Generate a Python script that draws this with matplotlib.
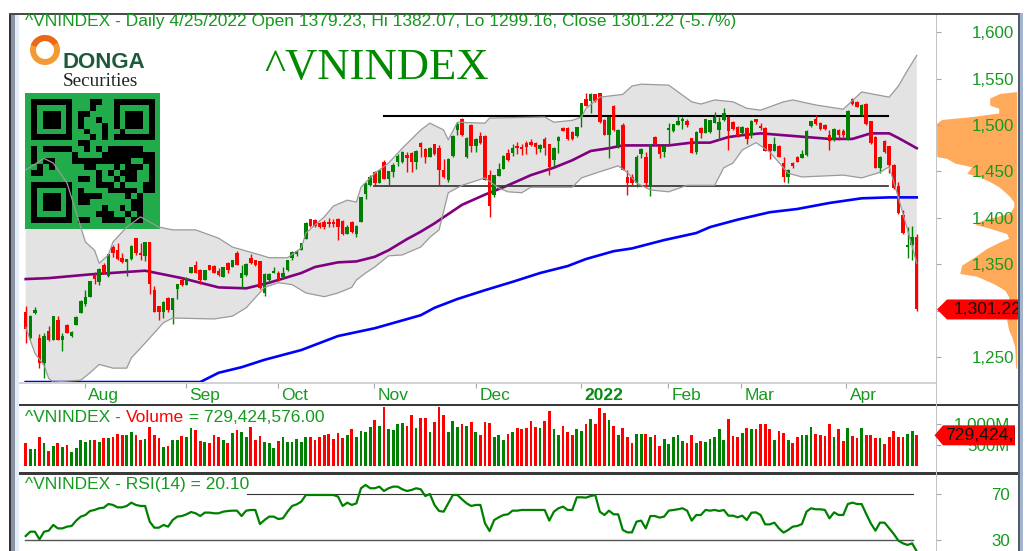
import numpy as np
import matplotlib
matplotlib.use("Agg")
import matplotlib.pyplot as plt
from matplotlib.patches import Rectangle, Polygon, Wedge
from matplotlib.transforms import ScaledTranslation, Bbox
from matplotlib.ticker import FuncFormatter
from matplotlib.colors import ListedColormap

plt.rcParams['font.family'] = ['Liberation Sans', 'DejaVu Sans']

highs = [1305,1295,1304,1275,1276,1283,1294,1294,1276,1286,
 1278,1294,1311,1322,1332,1342,1346,1351,1361,1371,
 1373,1362,1356,1371,1378,1373,1374,1374,1326,1305,
 1310,1315,1314,1329,1335,1336,1347,1353,1345,1344,
 1349,1349,1346,1347,1352,1355,1364,1349,1351,1361,
 1355,1353,1340,1340,1347,1343,1347,1355,1364,1365,
 1373,1395,1399,1399,1396,1398,1400,1399,1400,1398,
 1392,1397,1392,1422,1438,1446,1450,1452,1462,1450,
 1459,1469,1472,1471,1471,1473,1482,1475,1476,1480,
 1478,1463,1464,1489,1503,1508,1487,1501,1486,1492,
 1489,1452,1446,1459,1468,1474,1480,1482,1480,1483,
 1485,1482,1480,1487,1480,1476,1488,1498,1498,1493,
 1498,1524,1534,1535,1533,1535,1506,1510,1522,1496,
 1502,1452,1447,1468,1475,1471,1480,1488,1478,1478,
 1502,1501,1510,1509,1507,1486,1493,1498,1507,1505,
 1514,1509,1518,1510,1504,1499,1499,1498,1505,1507,
 1502,1498,1480,1487,1478,1465,1453,1460,1467,1473,
 1495,1504,1511,1503,1501,1495,1497,1496,1496,1516,
 1529,1526,1523,1524,1504,1488,1467,1484,1477,1458,
 1439,1408,1390,1391,1382.07]
body_hi = [1299,1294,1301,1271,1273,1278,1294,1290,1273,1285,
 1277,1293,1310,1315,1332,1338,1345,1349,1361,1368,
 1365,1357,1356,1370,1378,1362,1374,1374,1322,1305,
 1309,1314,1314,1329,1333,1335,1347,1349,1344,1344,
 1349,1348,1343,1347,1351,1355,1362,1340,1350,1357,
 1355,1353,1339,1339,1343,1341,1341,1354,1363,1364,
 1373,1394,1399,1398,1394,1396,1395,1395,1399,1397,
 1390,1396,1391,1422,1437,1444,1449,1452,1460,1450,
 1457,1467,1471,1468,1470,1472,1481,1474,1475,1480,
 1475,1452,1463,1488,1501,1506,1486,1500,1485,1488,
 1488,1446,1446,1453,1467,1470,1475,1477,1476,1481,
 1482,1481,1478,1485,1480,1475,1487,1497,1497,1492,
 1498,1524,1528,1533,1533,1534,1505,1509,1520,1495,
 1500,1444,1444,1466,1474,1466,1479,1487,1477,1477,
 1497,1501,1504,1506,1504,1486,1492,1497,1506,1505,
 1509,1503,1513,1509,1503,1498,1498,1497,1504,1506,
 1499,1497,1479,1479,1477,1459,1452,1459,1466,1469,
 1494,1504,1506,1502,1500,1489,1496,1495,1493,1515,
 1528,1525,1522,1523,1504,1487,1466,1483,1477,1457,
 1434,1403,1371,1379,1379.23]
body_lo = [1280,1270,1297,1243,1243,1268,1268,1268,1268,1276,
 1273,1285,1297,1307,1315,1334,1331,1341,1337,1362,
 1356,1352,1352,1356,1362,1360,1359,1329,1299,1298,
 1298,1301,1301,1323,1328,1328,1340,1340,1333,1333,
 1344,1340,1338,1336,1344,1347,1349,1335,1338,1351,
 1349,1324,1319,1333,1341,1333,1336,1344,1357,1361,
 1365,1377,1391,1391,1390,1390,1393,1393,1390,1383,
 1383,1385,1383,1396,1426,1435,1437,1438,1442,1442,
 1449,1460,1460,1464,1460,1460,1476,1465,1465,1469,
 1451,1444,1441,1467,1495,1489,1465,1477,1477,1481,
 1441,1413,1425,1445,1453,1462,1470,1475,1474,1476,
 1478,1476,1474,1475,1455,1462,1483,1494,1485,1485,
 1488,1509,1520,1526,1526,1503,1489,1489,1495,1477,
 1452,1437,1438,1437,1469,1437,1433,1479,1469,1471,
 1495,1493,1500,1504,1500,1470,1471,1491,1491,1492,
 1502,1495,1505,1493,1496,1488,1491,1485,1489,1503,
 1497,1472,1472,1472,1465,1444,1444,1456,1460,1464,
 1468,1499,1501,1496,1496,1483,1484,1489,1489,1485,
 1523,1519,1511,1501,1481,1454,1454,1471,1457,1432,
 1405,1384,1368,1371,1301.22]
lows = [1265,1269,1296,1238,1227,1267,1268,1268,1256,1276,
 1272,1284,1297,1305,1315,1329,1328,1340,1336,1358,
 1355,1351,1337,1355,1360,1355,1353,1318,1298,1290,
 1292,1299,1286,1313,1327,1328,1340,1340,1329,1333,
 1344,1340,1337,1336,1341,1347,1349,1324,1337,1350,
 1348,1323,1316,1330,1341,1332,1334,1343,1355,1359,
 1365,1377,1390,1390,1389,1388,1390,1390,1376,1382,
 1383,1384,1379,1396,1420,1434,1434,1437,1442,1435,
 1444,1456,1459,1449,1449,1453,1466,1459,1465,1468,
 1435,1443,1439,1466,1489,1488,1464,1471,1471,1480,
 1441,1401,1422,1445,1453,1461,1467,1469,1468,1469,
 1477,1469,1471,1468,1446,1456,1470,1493,1484,1484,
 1487,1498,1520,1513,1525,1502,1489,1464,1494,1475,
 1451,1425,1435,1433,1464,1433,1424,1478,1464,1466,
 1478,1492,1500,1496,1498,1470,1469,1486,1491,1491,
 1502,1484,1504,1473,1495,1487,1490,1480,1486,1501,
 1495,1472,1463,1472,1465,1439,1438,1454,1460,1464,
 1467,1498,1500,1495,1495,1473,1483,1484,1487,1484,
 1522,1519,1510,1500,1480,1454,1448,1470,1448,1431,
 1404,1383,1357,1354,1299.16]
direction = ("rggrgrgrgr" "gggggrgrgr" "rrggrrgrrr" "grggrggrrg" "rrrgrgrggr"
             "rrgggrgggg" "ggrrrrrrrr" "grggggrgrg" "gggrrgrrgr" "rrgggrgrgr"
             "rrgggrgrrr" "rrgrrggrrr" "ggrgrrrgrg" "rrrggrgrrg" "ggggrrgrgg"
             "gggrrrgrgr" "rrrgrrgrrg" "ggrrrrgrrg" "rrgrrrgrrr" "rrggr")
volume_m = [536,392,392,680,536,360,472,536,440,496,
 336,416,616,560,616,616,560,672,656,680,
 760,736,736,816,736,616,632,936,736,656,
 456,480,616,616,712,680,896,856,592,560,
 536,736,680,616,536,776,856,816,696,936,
 616,712,560,536,416,592,696,560,560,632,
 560,696,680,616,680,736,760,632,792,656,
 736,880,680,840,816,920,1096,960,1416,872,
 856,992,1016,960,1216,896,1152,1152,816,1040,
 1416,1216,816,1072,936,992,960,1040,816,736,
 1040,1016,680,736,616,760,816,896,880,896,
 1072,936,896,1072,1320,872,736,952,816,736,
 872,840,992,1120,992,1376,1272,1096,952,736,
 896,680,536,760,760,760,680,736,480,640,
 512,680,736,592,536,736,536,592,560,640,
 696,872,616,1120,712,680,792,896,872,872,
 992,992,872,616,840,792,616,536,680,736,
 736,920,752,736,712,992,680,872,592,896,
 712,656,896,736,736,656,656,512,680,840,
 680,696,760,840,729.42]
rsi = [33.5,37.3,37.3,30.6,37.3,38.2,43.2,40.2,40.2,41.7,
 42.3,47.0,50.5,51.9,55.4,56.3,57.8,58.3,61.5,60.7,
 58.6,58.6,59.8,62.7,60.7,59.8,59.8,46.1,40.8,40.8,
 43.2,41.7,47.5,50.5,51.0,52.5,54.5,53.4,51.0,54.0,
 54.0,53.4,53.4,54.8,55.4,55.7,55.7,51.0,55.7,56.3,
 56.3,44.0,47.5,50.5,50.5,48.4,49.0,54.8,59.8,61.2,
 63.6,69.4,69.4,69.4,69.4,69.4,69.4,69.4,68.0,59.8,
 62.7,60.7,62.1,75.3,78.2,75.3,75.3,76.7,72.9,75.3,
 76.7,76.7,74.4,72.9,73.8,75.3,74.4,68.5,70.3,60.7,
 55.4,54.8,62.1,69.4,69.4,65.6,62.1,59.8,60.7,60.7,
 44.6,37.9,47.5,49.9,
 51.9,52.5,55.7,55.7,56.3,56.3,56.3,56.3,56.3,56.3,
 47.0,54.8,57.8,59.2,56.3,56.3,67.4,67.4,67.1,68.5,
 69.4,54.8,51.9,55.7,52.5,52.5,38.8,36.7,36.7,46.1,
 47.0,40.2,51.0,51.0,49.6,50.5,55.7,56.3,56.9,57.8,
 55.7,47.0,51.9,51.9,56.3,55.7,56.3,55.4,56.3,51.3,
 51.3,49.9,51.3,47.5,53.9,54.2,51.9,43.7,43.7,45.2,
 40.2,36.5,38.8,41.7,42.3,44.0,54.8,57.8,56.9,56.9,
 56.3,49.0,54.2,51.9,51.9,61.5,62.7,61.5,61.5,52.8,
 44.6,38.2,45.2,45.2,40.2,35.3,29.5,27.1,25.7,27.1,20.10]

upper_idx = [0,4,6,9,13,15,16,18,19,22,25,29,32,37,42,45,51,53,57,60,61,65,67,70,72,73,76,79,82,86,
             88,91,92,94,100,101,113,115,119,121,122,125,130,132,134,140,145,147,150,154,157,160,165,167,172,178,182,188,190,192,194]
upper_band = [1451.5,1464,1459,1437.5,1374,1365,1351,1360,1374,1390,1401,1390,1387,1387,1378,1368.5,1360,1357,1357,1367.5,
              1383.6,1401,1412.7,1419,1417,1433,1448,1459,1475,1494.6,1502,1494.6,1484,1503,1502,1507.5,1508.6,1503,1505,1508.6,
              1518,1530,1533,1542,1544,1543,1525,1522.6,1527,1525,1518,1516,1525,1527,1521.6,1517,1535.6,1530,1542,1559,1575]
lower_idx = [0,2,4,5,6,12,14,16,19,22,23,26,30,32,41,45,48,52,55,58,61,65,68,71,72,74,76,79,82,86,88,90,92,95,100,103,105,108,110,115,119,
             121,124,129,131,133,136,140,144,150,152,154,156,159,162,166,169,178,182,186,188,190,192,194]
lower_band = [1282,1254,1241,1227,1223,1225,1233,1242,1238,1238,1249,1265,1287,1292,1291,1294,1303,1325,1330,1328,1319,1315,1319,1325,1333,1340.5,1347,1359,1360,1368.5,1379,1387,1427,1435,1443,1432,1428,1427,1433,1433,1433,
              1443,1448,1456,1449,1437.5,1430,1428,1435,1435,1454,1459,1473,1481,1471,1448,1444,1446,1443,1449,1455,1422,1387,1351]
ma50_idx = [0,5,14,26,34,42,48,53,60,63,68,72,76,79,83,86,89,95,100,105,110,115,119,123,127,130,134,140,145,149,153,156,160,165,170,175,180,184,188,190,194]
ma50 = [1334,1335,1339,1343,1335,1325,1324,1330,1340.5,1347,1352,1353,1358,1365,1377,1385,1394,1414,1425,1435,1446,1454,1462,1472,1475,1478,1478,1478,1481,1481,1487,1489,1491,1489,1487,1485,1485,1491,1491,1486,1475]
ma200_idx = [0,38,42,47,52,60,68,76,81,86,89,94,100,106,112,118,122,128,132,139,146,149,155,162,168,175,182,188,194]
ma200 = [1223,1223,1233,1239,1247,1257.5,1272.6,1281,1288,1295,1303,1312.5,1322,1331,1340.5,1348,1355.6,1364,1367,1376,1383.6,1390,1398,1406,1409.5,1416,1421,1422,1422]
vap_price = [1536,1534,1529,1521.5,1518,1513,1509,1506,1502,1466,1464,1459,1455,1448,1444,1439,1433.5,1428,1423,1417,1412,1405,1398,1393,1389,1383,1378,1374,1367,1358,1349,1340,1337,1329,1322,1315,1304,1290,1279,1272,1261,1238]
vap_level = [0,17,27,27,18,18,45,75,80,80,70,62,45,50,37,27,18,12,7,3,3,7,33,42,28,10,8,17,30,42,55,57,40,23,12,8,8,10,8,5,2,1]
month_labels = ['Aug','Sep','Oct','Nov','Dec','2022','Feb','Mar','Apr']
month_pos = [12.85,34.85,54.85,75.9,98,120.8,139.9,155.7,178.6]
price_ticks = [1250,1300,1350,1400,1450,1500,1550,1600]
resistance = 1509.7
support = 1434.3
qr_rows = ["111111100011001111111",
 "100000100010001000001",
 "101110101100001011101",
 "101110101001001011101",
 "101110101000101011101",
 "100000100100100100001",
 "111111100010101111111",
 "000000001100000000000",
 "101111100101011111100",
 "100000010000111111111",
 "101100011111111110011",
 "010100000110001011101",
 "110000000001010111001",
 "000000001101001011001",
 "111111100001110100011",
 "100000101000011111011",
 "101110101111000010100",
 "101110101100000001100",
 "101110100000100101100",
 "100000100001110010100",
 "111111101100111101100"]

W, H = 1026, 551
STEP = 4.593
X0 = 25.7
up = np.array([c == 'g' for c in direction])
assert len(direction) == len(highs) == len(body_hi) == len(body_lo) == len(lows) == len(volume_m) == len(rsi)
idx = np.arange(len(highs))
RED, GREEN, TXT = '#ff0000', '#008000', '#159a1f'

fig = plt.figure(figsize=(W/100, H/100), dpi=100, facecolor='white')

def px_axes(l, t, r, b, **kw):
    return fig.add_axes([l/W, 1-b/H, (r-l)/W, (b-t)/H], **kw)

xlim = ((19-X0)/STEP, (936-X0)/STEP)
to_price = lambda y: 1250 + (357-y)*1.0776

# volume at price, behind the price scale
ah = px_axes(936, 14, 1016.7, 382, zorder=0.5)
ah.fill_betweenx(vap_price, 0, vap_level, color='#ffaa5a', lw=0)
ah.set_xlim(80.7, 0); ah.set_ylim(to_price(382), to_price(14)); ah.axis('off')

# price pane
ax = px_axes(19, 14, 936, 382, zorder=1)
ax.fill(list(upper_idx)+list(lower_idx[::-1]), list(upper_band)+list(lower_band[::-1]), color='#e3e3e3', lw=0, zorder=1)
ax.plot(ma50_idx, ma50, color='#800080', lw=1.9, zorder=2)
ax.plot(ma200_idx, ma200, color='#0000ff', lw=1.9, zorder=2, clip_on=False)
ax.plot([(384.3-X0)/STEP, (888-X0)/STEP], [resistance]*2, color='black', lw=1.5, zorder=2.5)
ax.plot([(373.5-X0)/STEP, (888-X0)/STEP], [support]*2, color='#3c3c3c', lw=1.3, zorder=2.5)
colors = np.where(up, GREEN, RED)
ax.vlines(idx, lows, highs, colors=colors, lw=1.0, zorder=3)
ax.bar(idx, np.array(body_hi)-np.array(body_lo), bottom=body_lo, width=0.76, color=colors, lw=0, zorder=3)
ax.set_xlim(*xlim); ax.set_ylim(to_price(382), to_price(14))
for s in ax.spines.values(): s.set_visible(False)
ax.yaxis.tick_right()
ax.set_yticks(price_ticks)
ax.yaxis.set_major_formatter(FuncFormatter(lambda v, p: f'{v:,.0f}'))
ax.tick_params(axis='y', length=3.6, width=0.8, color='#a8a8a8', pad=52.6, labelsize=12.2, labelcolor=TXT)
for t in ax.get_yticklabels(): t.set_ha('right')
ax.set_xticks(month_pos); ax.set_xticklabels(month_labels)
ax.tick_params(axis='x', length=4, width=0.8, color='#a8a8a8', pad=0, labelsize=12.5, labelcolor=TXT)
off = ScaledTranslation(3.5/100, 0, fig.dpi_scale_trans)
for t, m in zip(ax.get_xticklabels(), month_labels):
    t.set_ha('left'); t.set_transform(t.get_transform()+off)
    if m == '2022':
        t.set_fontweight('bold'); t.set_color('#0a8a14')

# volume pane
av = px_axes(19, 406, 936, 472, zorder=1)
av.bar(idx, volume_m, width=0.6, color=colors, lw=0)
av.set_xlim(*xlim); av.set_ylim(-151, 1433)
for s in av.spines.values(): s.set_visible(False)
av.set_xticks([]); av.yaxis.tick_right(); av.set_yticks([500, 1000])
av.yaxis.set_major_formatter(FuncFormatter(lambda v, p: f'{v:,.0f}M'))
av.tick_params(axis='y', length=3.6, width=0.8, color='#a8a8a8', pad=49.7, labelsize=12.2, labelcolor=TXT)
for t in av.get_yticklabels(): t.set_ha('right')

# RSI pane
ar = px_axes(19, 475, 936, 551, zorder=1)
ar.plot(idx, rsi, color=GREEN, lw=1.6, zorder=3)
ar.plot([(247-X0)/STEP, (913-X0)/STEP], [70, 70], color='#333333', lw=0.8)
ar.plot([(25-X0)/STEP, (913-X0)/STEP], [30, 30], color='#555555', lw=1.0)
ar.set_xlim(*xlim); ar.set_ylim(20.4, 86.9)
for s in ar.spines.values(): s.set_visible(False)
ar.set_xticks([]); ar.yaxis.tick_right(); ar.set_yticks([30, 70])
ar.tick_params(axis='y', length=3.6, width=0.8, color='#a8a8a8', pad=49.7, labelsize=12.2, labelcolor=TXT)
for t in ar.get_yticklabels(): t.set_ha('right')

# QR picture
aq = px_axes(25, 93, 160, 229, zorder=2, facecolor='#22ab4b')
M = 5.89
qr = np.array([[int(c) for c in r] for r in qr_rows])
assert qr.shape == (21, 21)
aq.imshow(np.ma.masked_equal(qr, 0), cmap=ListedColormap(['black']), extent=(0, 21, 21, 0), interpolation='nearest', aspect='auto')
aq.set_xlim((25-30.7)/M, (160-30.7)/M); aq.set_ylim((229-99.7)/M, (93-99.7)/M)
aq.set_xticks([]); aq.set_yticks([])
for s in aq.spines.values(): s.set_visible(False)

# band outline over the picture
ao = px_axes(19, 14, 936, 382, zorder=3, facecolor='none')
ao.plot(upper_idx, upper_band, color='#9a9a9a', lw=0.9)
ao.plot(lower_idx, lower_band, color='#9a9a9a', lw=0.9)
ao.set_xlim(*xlim); ao.set_ylim(to_price(382), to_price(14)); ao.axis('off')

# frame, titles, tags in figure pixels
d = px_axes(0, 0, W, H, zorder=5, facecolor='none')
d.set_xlim(0, W); d.set_ylim(H, 0); d.axis('off')
def box(x0, y0, x1, y1, c, z=1):
    d.add_patch(Rectangle((x0, y0), x1-x0, y1-y0, fc=c, ec='none', zorder=z))
box(9, 13, 11, H, '#333333'); box(11, 13, 14.5, H, '#8a94a6'); box(14.5, 13, 19, H, '#e4ecf8')
box(9, 13, 1021, 15, '#4a4a4a')
box(1018, 13, 1020, H, '#505c6c'); box(1020, 13, 1023, H, '#a4b4cc')
box(19, 403.5, 1018, 406, '#3a3a3a'); box(19, 472, 1018, 474.5, '#3a3a3a')
box(19, 382, 936, 384, '#d2d2d2')
box(935.5, 15, 937, H, '#c4c4c4')

def chain(x, y, parts, size=12.5):
    rend = fig.canvas.get_renderer()
    for s, c in parts:
        t = d.text(x, y, s, color=c, fontsize=size, va='center', ha='left', zorder=8)
        x += t.get_window_extent(rend).width

chain(25, 21.5, [('^VNINDEX - Daily 4/25/2022 Open 1379.23, Hi 1382.07, Lo 1299.16, Close 1301.22 (-5.7%)', TXT)])
chain(25, 417, [('^VNINDEX - ', TXT), ('Volume', RED), (' = 729,424,576.00', TXT)])
chain(25, 485, [('^VNINDEX - RSI(14) = 20.10', TXT)])
d.text(264, 68, '^VNINDEX', family='Liberation Serif', fontsize=32.2, color='#008a00', va='center', ha='left', zorder=8)

# logo
d.add_patch(Wedge((45, 50), 15, 0, 360, width=6, fc='#f39a35', ec='none', zorder=6))
d.add_patch(Wedge((45, 50), 15, 200, 330, width=6, fc='#e8691a', ec='none', zorder=6))
d.text(63, 62, 'DONGA', fontweight='bold', fontsize=16, color='#1d5a3c', va='center', ha='left', zorder=8)
d.text(63, 82, 'Securities', family='Liberation Serif', fontsize=13.8, color='#222222', va='center', ha='left', zorder=8)

def tag(tip_x, body_x, right, yc, half, text, tx):
    d.add_patch(Polygon([(tip_x, yc), (body_x, yc-half), (right, yc-half), (right, yc+half), (body_x, yc+half)],
                        fc='#ff0000', ec='none', zorder=7))
    t = d.text(tx, yc, text, fontsize=12.6, color='#111111', va='center', ha='left', zorder=8, clip_on=True)
    t.set_clip_box(Bbox([[body_x, 0], [right, H]]))

close_y = H - ax.transData.transform((0, body_lo[-1]))[1]
vol_y = H - av.transData.transform((0, volume_m[-1]))[1]
tag(937, 947, 1018, close_y, 10, '1,301.22', 954)
tag(934.5, 943, 1015, vol_y, 10, '729,424,576', 945)

fig.savefig('out.png', dpi=100)
